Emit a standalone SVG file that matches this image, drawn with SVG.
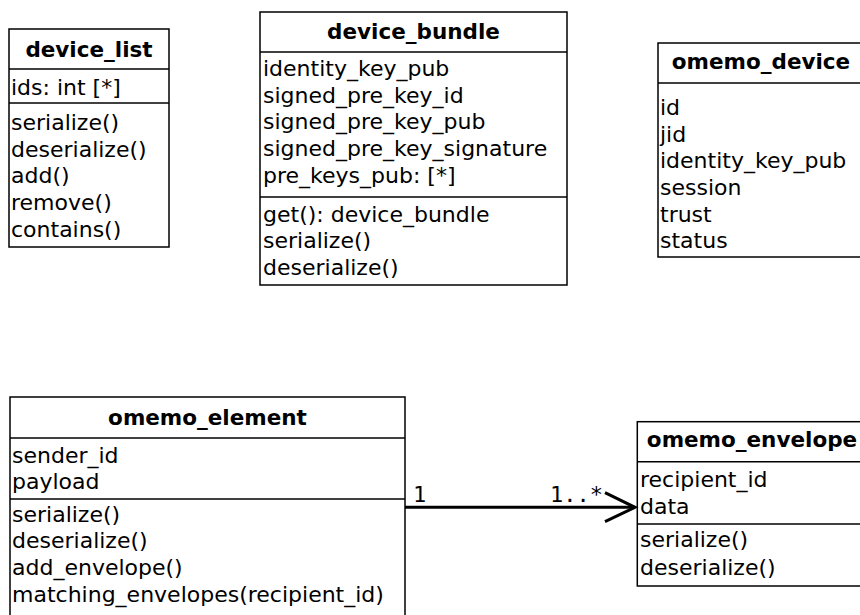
<svg xmlns="http://www.w3.org/2000/svg" width="860" height="615" viewBox="0 0 860 615">
<style>
.box{fill:#fff;stroke:#000;stroke-width:1.5}
.sep{stroke:#000;stroke-width:1.5}
.t{font-family:"DejaVu Sans",sans-serif;font-size:22px;fill:#000}
.h{font-family:"DejaVu Sans",sans-serif;font-size:21.5px;font-weight:bold;fill:#000;text-anchor:middle}
.m{font-family:"DejaVu Sans Mono",monospace;font-size:22px;fill:#000}
.conn{stroke:#000;stroke-width:3;fill:none}
</style>
<rect width="860" height="615" fill="#fff"/>
<g id="device_list">
<rect class="box" x="9" y="29" width="160" height="218"/>
<line class="sep" x1="9" y1="69" x2="169" y2="69"/>
<line class="sep" x1="9" y1="103" x2="169" y2="103"/>
<text class="h" x="89" y="57">device_list</text>
<text class="t" x="11" y="95">ids: int [*]</text>
<text class="t" x="11" y="130">serialize()</text>
<text class="t" x="11" y="156.7">deserialize()</text>
<text class="t" x="11" y="183.3">add()</text>
<text class="t" x="11" y="210">remove()</text>
<text class="t" x="11" y="236.7">contains()</text>
</g>
<g id="device_bundle">
<rect class="box" x="260" y="12" width="307" height="273"/>
<line class="sep" x1="260" y1="52" x2="567" y2="52"/>
<line class="sep" x1="260" y1="197" x2="567" y2="197"/>
<text class="h" x="413.5" y="39">device_bundle</text>
<text class="t" x="263" y="76">identity_key_pub</text>
<text class="t" x="263" y="102.7">signed_pre_key_id</text>
<text class="t" x="263" y="129.3">signed_pre_key_pub</text>
<text class="t" x="263" y="156">signed_pre_key_signature</text>
<text class="t" x="263" y="182.7">pre_keys_pub: [*]</text>
<text class="t" x="263" y="221.7">get(): device_bundle</text>
<text class="t" x="263" y="248.3">serialize()</text>
<text class="t" x="263" y="275">deserialize()</text>
</g>
<g id="omemo_device">
<rect class="box" x="658" y="43" width="206" height="214"/>
<line class="sep" x1="658" y1="83" x2="864" y2="83"/>
<text class="h" x="761" y="69">omemo_device</text>
<text class="t" x="660" y="115">id</text>
<text class="t" x="660" y="141.7">jid</text>
<text class="t" x="660" y="168.3">identity_key_pub</text>
<text class="t" x="660" y="195">session</text>
<text class="t" x="660" y="221.7">trust</text>
<text class="t" x="660" y="248.3">status</text>
</g>
<g id="omemo_element">
<rect class="box" x="10" y="397" width="395" height="230"/>
<line class="sep" x1="10" y1="438" x2="405" y2="438"/>
<line class="sep" x1="10" y1="499" x2="405" y2="499"/>
<text class="h" x="207.5" y="425">omemo_element</text>
<text class="t" x="12" y="462.7">sender_id</text>
<text class="t" x="12" y="489.3">payload</text>
<text class="t" x="12" y="521.7">serialize()</text>
<text class="t" x="12" y="548.3">deserialize()</text>
<text class="t" x="12" y="575">add_envelope()</text>
<text class="t" x="12" y="601.7">matching_envelopes(recipient_id)</text>
</g>
<g id="omemo_envelope">
<rect class="box" x="637.3" y="421.7" width="240" height="164.3"/>
<line class="sep" x1="637.3" y1="461.7" x2="877" y2="461.7"/>
<line class="sep" x1="637.3" y1="524" x2="877" y2="524"/>
<text class="h" x="752" y="447">omemo_envelope</text>
<text class="t" x="640" y="487">recipient_id</text>
<text class="t" x="640" y="514">data</text>
<text class="t" x="640" y="546.7">serialize()</text>
<text class="t" x="640" y="575">deserialize()</text>
</g>
<g id="connectors">
<line class="conn" x1="405" y1="507.3" x2="635" y2="507.3"/>
<polyline class="conn" points="605,492.7 635,507.3 605,521.7"/>
<text class="m" x="413" y="501.7">1</text>
<text class="m" x="550" y="501.7">1..*</text>
</g>
</svg>
